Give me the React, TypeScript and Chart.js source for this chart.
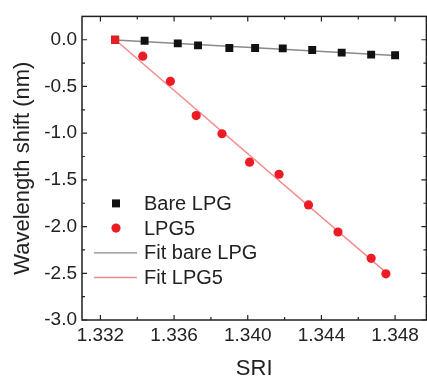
import React, { useEffect, useRef } from "react";
import { Chart, registerables } from "chart.js";

Chart.register(...registerables);

const BARE_SRI = [1.3328, 1.3344, 1.3362, 1.3373, 1.339, 1.3404, 1.3419, 1.3435, 1.3451, 1.3467, 1.348];
const BARE_SHIFT = [0, -0.011, -0.039, -0.06, -0.088, -0.088, -0.092, -0.109, -0.138, -0.159, -0.166];
const LPG5_SRI = [1.3328, 1.3343, 1.3358, 1.3372, 1.3386, 1.3401, 1.3417, 1.3433, 1.3449, 1.3467, 1.3475];
const LPG5_SHIFT = [0, -0.176, -0.445, -0.812, -1.006, -1.31, -1.44, -1.768, -2.058, -2.34, -2.506];
const FIT_BARE_SRI = [1.3328, 1.348];
const FIT_BARE_SHIFT = [-0.003, -0.168];
const FIT_LPG5_SRI = [1.3328, 1.3475];
const FIT_LPG5_SHIFT = [0.0, -2.49];

const X_TICKS = [1.332, 1.336, 1.34, 1.344, 1.348];
const X_MINOR = [1.334, 1.338, 1.342, 1.346];
const Y_TICKS = [0, -0.5, -1, -1.5, -2, -2.5, -3];
const Y_MINOR = [-0.25, -0.75, -1.25, -1.75, -2.25, -2.75];

const X_MIN = 1.331;
const X_MAX = 1.3497;
const Y_MIN = -3.0;
const Y_MAX = 0.25;

const LEGEND = [
  { label: "Bare LPG", kind: "rect", color: "#111111" },
  { label: "LPG5", kind: "circle", color: "#ec1c24" },
  { label: "Fit bare LPG", kind: "line", color: "#8a8a8a" },
  { label: "Fit LPG5", kind: "line", color: "#f28a8a" },
];

const FONT = "'Liberation Sans', Arial, sans-serif";
const TEXT = "#222222";

const zip = (xs: number[], ys: number[]) => xs.map((x, i) => ({ x, y: ys[i] }));

const framePlugin = {
  id: "frameTicks",
  afterDatasetsDraw(chart: any) {
    const { ctx, chartArea: a, scales } = chart;
    const xs = scales.x;
    const ys = scales.y;
    ctx.save();
    ctx.strokeStyle = "#222";
    ctx.lineWidth = 1.5;
    ctx.strokeRect(a.left, a.top, a.right - a.left, a.bottom - a.top);
    ctx.lineWidth = 1.2;
    const tick = (vals: number[], len: number) => {
      vals.forEach((v) => {
        const px = xs.getPixelForValue(v);
        ctx.beginPath();
        ctx.moveTo(px, a.bottom);
        ctx.lineTo(px, a.bottom - len);
        ctx.moveTo(px, a.top);
        ctx.lineTo(px, a.top + len);
        ctx.stroke();
      });
    };
    const tickY = (vals: number[], len: number) => {
      vals.forEach((v) => {
        const py = ys.getPixelForValue(v);
        ctx.beginPath();
        ctx.moveTo(a.left, py);
        ctx.lineTo(a.left + len, py);
        ctx.moveTo(a.right, py);
        ctx.lineTo(a.right - len, py);
        ctx.stroke();
      });
    };
    tick(X_TICKS, 5);
    tick(X_MINOR, 3);
    tickY(Y_TICKS, 5);
    tickY(Y_MINOR, 3);
    ctx.restore();
  },
  afterDraw(chart: any) {
    const { ctx, chartArea: a } = chart;
    ctx.save();
    ctx.font = `20px ${FONT}`;
    ctx.textBaseline = "middle";
    ctx.textAlign = "left";
    const rowH = 24.7;
    LEGEND.forEach((item, i) => {
      const cy = a.top + 187 + i * rowH;
      const cx = a.left + 34;
      ctx.fillStyle = item.color;
      ctx.strokeStyle = item.color;
      if (item.kind === "rect") {
        ctx.fillRect(cx - 4, cy - 4, 8, 8);
      } else if (item.kind === "circle") {
        ctx.beginPath();
        ctx.arc(cx, cy, 4.6, 0, Math.PI * 2);
        ctx.fill();
      } else {
        ctx.lineWidth = 1.3;
        ctx.beginPath();
        ctx.moveTo(a.left + 12, cy);
        ctx.lineTo(a.left + 55, cy);
        ctx.stroke();
      }
      ctx.fillStyle = TEXT;
      ctx.fillText(item.label, a.left + 62, cy + 1);
    });
    ctx.restore();
  },
};

export default function App() {
  const ref = useRef<HTMLCanvasElement | null>(null);
  useEffect(() => {
    if (!ref.current) return;
    const chart = new Chart(ref.current, {
      type: "scatter",
      data: {
        datasets: [
          {
            label: "LPG5",
            data: zip(LPG5_SRI, LPG5_SHIFT),
            backgroundColor: "#ec1c24",
            borderColor: "#ec1c24",
            borderWidth: 0,
            pointStyle: (c: any) => (c.dataIndex === 0 ? "rect" : "circle"),
            pointRadius: (c: any) => (c.dataIndex === 0 ? 5.6 : 4.6),
            showLine: false,
          },
          {
            label: "Bare LPG",
            data: zip(BARE_SRI, BARE_SHIFT),
            backgroundColor: "#111111",
            borderColor: "#111111",
            borderWidth: 0,
            pointStyle: "rect",
            pointRadius: 5.6,
            showLine: false,
          },
          {
            label: "Fit LPG5",
            data: zip(FIT_LPG5_SRI, FIT_LPG5_SHIFT),
            borderColor: "#f28a8a",
            borderWidth: 1.4,
            pointRadius: 0,
            showLine: true,
          },
          {
            label: "Fit bare LPG",
            data: zip(FIT_BARE_SRI, FIT_BARE_SHIFT),
            borderColor: "#8a8a8a",
            borderWidth: 1.4,
            pointRadius: 0,
            showLine: true,
          },
        ],
      },
      options: {
        animation: false,
        responsive: false,
        devicePixelRatio: 1,
        layout: { padding: { top: 13, right: 0, left: 0, bottom: 0 } },
        plugins: { legend: { display: false }, tooltip: { enabled: false } },
        scales: {
          x: {
            type: "linear",
            min: X_MIN,
            max: X_MAX,
            afterBuildTicks: (s: any) => {
              s.ticks = X_TICKS.map((value) => ({ value }));
            },
            afterFit: (s: any) => {
              s.height = 64;
            },
            grid: { display: false, drawTicks: false },
            border: { display: false },
            ticks: {
              color: TEXT,
              font: { family: FONT, size: 19 },
              padding: 4,
              maxRotation: 0,
              autoSkip: false,
              callback: (v: any) => Number(v).toFixed(3),
            },
            title: {
              display: true,
              text: "SRI",
              color: TEXT,
              font: { family: FONT, size: 22 },
              padding: { top: 0, bottom: 2 },
            },
          },
          y: {
            type: "linear",
            min: Y_MIN,
            max: Y_MAX,
            afterBuildTicks: (s: any) => {
              s.ticks = Y_TICKS.map((value) => ({ value }));
            },
            afterFit: (s: any) => {
              s.width = 82;
            },
            grid: { display: false, drawTicks: false },
            border: { display: false },
            ticks: {
              color: TEXT,
              font: { family: FONT, size: 19 },
              padding: 5,
              autoSkip: false,
              callback: (v: any) => Number(v).toFixed(1),
            },
            title: {
              display: true,
              text: "Wavelength shift (nm)",
              color: TEXT,
              font: { family: FONT, size: 22 },
              padding: { top: 10, bottom: 0 },
            },
          },
        },
      },
      plugins: [framePlugin],
    });
    return () => chart.destroy();
  }, []);
  return (
    <div style={{ position: "fixed", left: 0, top: 0, width: 427, height: 376, overflow: "hidden", background: "#fff" }}>
      <canvas ref={ref} width={432} height={384} style={{ width: 432, height: 384, display: "block" }} />
    </div>
  );
}
